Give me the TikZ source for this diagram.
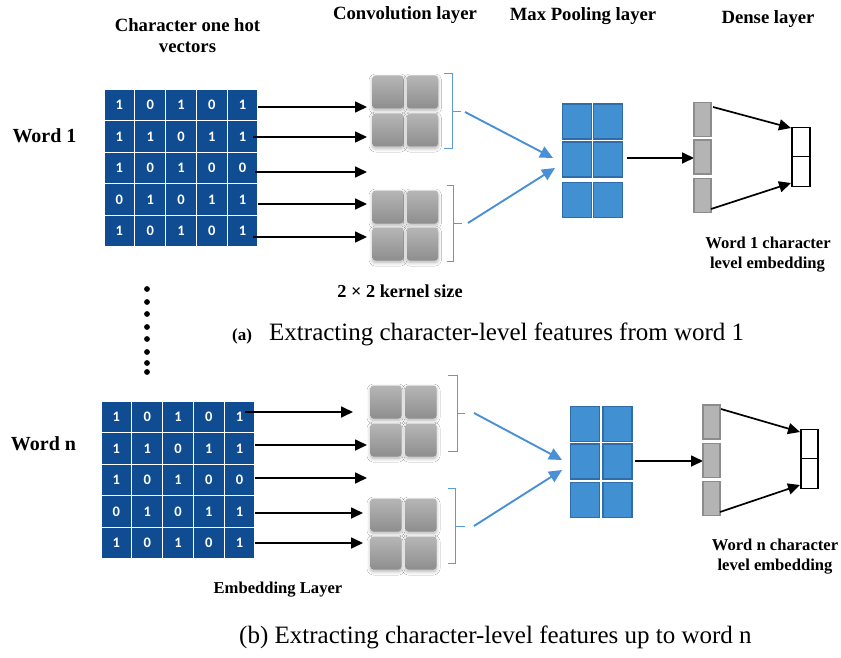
\documentclass[tikz,border=0pt]{standalone}
\usepackage{fontspec}
\setmainfont{Liberation Serif}
\newfontfamily\digitfont{Carlito}
\usetikzlibrary{arrows.meta,shadows.blur}
\definecolor{gridblue}{RGB}{16,76,146}
\definecolor{poolblue}{RGB}{64,144,210}
\definecolor{pooledge}{RGB}{46,108,170}
\definecolor{lineblue}{RGB}{74,144,214}
\definecolor{bracecol}{RGB}{91,155,213}
\definecolor{densefill}{RGB}{180,180,180}
\definecolor{denseedge}{RGB}{140,140,140}
\definecolor{convtop}{RGB}{182,182,182}
\definecolor{convbot}{RGB}{142,142,142}
\tikzset{
  cellbox/.style={fill=gridblue, draw=white, line width=1.2pt, minimum width=30.8pt, minimum height=31.6pt, inner sep=0pt, text=white, font=\digitfont\bfseries\fontsize{14.5}{14.5}\selectfont},
  convbox/.style={rounded corners=3pt, top color=convtop, bottom color=convbot, draw=none, minimum width=31pt, minimum height=33pt, inner sep=0pt,
     blur shadow={shadow blur steps=8, shadow xshift=0pt, shadow yshift=-2pt, shadow blur radius=3.5pt, shadow opacity=30}},
  poolbox/.style={fill=poolblue, draw=pooledge, line width=1.3pt, minimum width=29pt, minimum height=35pt, inner sep=0pt},
  densebox/.style={fill=densefill, draw=denseedge, line width=1.3pt, minimum width=17pt, minimum height=34pt, inner sep=0pt},
  outbox/.style={fill=white, draw=black, line width=1.4pt, minimum width=18pt, minimum height=29.5pt, inner sep=0pt},
  arr/.style={-{Triangle[length=12pt,width=11pt]}, line width=1.7pt, draw=black},
  barr/.style={-{Triangle[length=13pt,width=12pt]}, line width=1.9pt, draw=lineblue},
  brace/.style={draw=bracecol, line width=1pt},
  lbl/.style={anchor=base, inner sep=0pt, font=\bfseries\fontsize{18.7}{20}\selectfont},
  wlbl/.style={anchor=base, inner sep=0pt, font=\bfseries\fontsize{20}{22}\selectfont},
  slbl/.style={anchor=base, inner sep=0pt, font=\bfseries\fontsize{16.6}{18}\selectfont},
  captext/.style={anchor=base west, inner sep=0pt, font=\fontsize{25}{27}\selectfont},
  dotnode/.style={circle, fill=black, minimum size=5.8pt, inner sep=0pt},
}
\begin{document}
\begin{tikzpicture}[x=1pt,y=-1pt]
\useasboundingbox (0,0) rectangle (841,658);
\fill[white] (0,0) rectangle (841,658);

% ---------- headers ----------
\node[lbl] (h1a) at (187.5,32) {Character one hot};
\node[lbl] (h1b) at (187.5,53) {vectors};
\node[lbl] (h2) at (405,20) {Convolution layer};
\node[lbl] (h3) at (583,21) {Max Pooling layer};
\node[lbl] (h4) at (768,24) {Dense layer};

% ---------- panel (a) ----------
\node[wlbl] (w1) at (44.5,143) {Word 1};
\foreach \row [count=\r] in {{1,0,1,0,1},{1,1,0,1,1},{1,0,1,0,0},{0,1,0,1,1},{1,0,1,0,1}}{
  \foreach \v [count=\c] in \row {
    \node[cellbox] (a-\r-\c) at ({104+(\c-0.5)*30.8},{89+(\r-0.5)*31.6}) {\v};
  }
}
\foreach \i/\sx/\yy/\ex in {1/258/107/367, 2/253/137/367, 3/255/172/367, 4/258/204/367, 5/253/237/367}{
  \coordinate (ta\i s) at (\sx,\yy);
  \coordinate (ta\i e) at (\ex,\yy);
  \draw[arr] (ta\i s) -- (ta\i e);
}
% conv squares
\foreach \n/\cx/\cy in {1/388/92, 2/422.5/92, 3/388/130, 4/422.5/130, 5/388/207, 6/422.5/207, 7/388/244, 8/422.5/244}{
  \node[convbox] (ac\n) at (\cx,\cy) {};
}
% braces
\draw[brace] (444,74) -- (452,74) -- (452,149) -- (444,149);
\draw[brace] (452,112) -- (461,112);
\draw[brace] (447,186) -- (453,186) -- (453,261) -- (447,261);
\draw[brace] (453,223) -- (462,223);
\coordinate (ab1) at (465,112); \coordinate (ap1) at (553,158);
\coordinate (ab2) at (468,223); \coordinate (ap2) at (555,168);
\draw[barr] (ab1) -- (ap1);
\draw[barr] (ab2) -- (ap2);
% pooling
\foreach \n/\cx/\cy in {1/577/121.5, 2/608/121.5, 3/577/159.5, 4/608/159.5, 5/577/200, 6/608/200}{
  \node[poolbox] (ap-\n) at (\cx,\cy) {};
}
\coordinate (apo) at (627,158); \coordinate (adi) at (694,158);
\draw[arr] (apo) -- (adi);
% dense
\node[densebox] (ad1) at (702.5,119.5) {};
\node[densebox] (ad2) at (702.5,157) {};
\node[densebox] (ad3) at (702.5,195.5) {};
\node[outbox] (ao1) at (801,142) {};
\node[outbox] (ao2) at (801,171.5) {};
\coordinate (ads1) at (713,107); \coordinate (aoe1) at (791,128);
\coordinate (ads2) at (711,209); \coordinate (aoe2) at (791,183);
\draw[arr] (ads1) -- (aoe1);
\draw[arr] (ads2) -- (aoe2);
\node[slbl] (ae1) at (768,248) {Word 1 character};
\node[slbl] (ae2) at (767.5,268) {level embedding};
\node[lbl, font=\bfseries\fontsize{18.3}{20}\selectfont] (ks) at (400,297) {2 × 2 kernel size};

% dots
\foreach \k/\yy in {1/289, 2/302, 3/314, 4/327, 5/339, 6/352, 7/363, 8/372}{
  \node[dotnode] (dot\k) at (147,\yy) {};
}

% caption a
\node[anchor=base west, inner sep=0pt, font=\bfseries\fontsize{17}{19}\selectfont] (capa1) at (232,340) {(a)};
\node[captext] (capa2) at (269,340) {Extracting character-level features from word 1};

% ---------- panel (b) ----------
\node[wlbl] (wn) at (43.5,450) {Word n};
\foreach \row [count=\r] in {{1,0,1,0,1},{1,1,0,1,1},{1,0,1,0,0},{0,1,0,1,1},{1,0,1,0,1}}{
  \foreach \v [count=\c] in \row {
    \node[cellbox] (b-\r-\c) at ({101+(\c-0.5)*30.8},{401+(\r-0.5)*31.6}) {\v};
  }
}
\foreach \i/\sx/\yy/\ex in {1/245/412/353, 2/255/445/367, 3/255/478/367, 4/255/513/363, 5/255/543/363}{
  \coordinate (tb\i s) at (\sx,\yy);
  \coordinate (tb\i e) at (\ex,\yy);
  \draw[arr] (tb\i s) -- (tb\i e);
}
\foreach \n/\cx/\cy in {1/386/402, 2/421/402, 3/386/440, 4/421/440, 5/386/515, 6/421/515, 7/386/553, 8/421/553}{
  \node[convbox] (bc\n) at (\cx,\cy) {};
}
\draw[brace] (448,375) -- (457,375) -- (457,451) -- (448,451);
\draw[brace] (457,413) -- (465,413);
\draw[brace] (448,488) -- (455,488) -- (455,563) -- (448,563);
\draw[brace] (455,526) -- (465,526);
\coordinate (bb1) at (474,413); \coordinate (bp1) at (562,460);
\coordinate (bb2) at (474,526); \coordinate (bp2) at (562,470);
\draw[barr] (bb1) -- (bp1);
\draw[barr] (bb2) -- (bp2);
\foreach \n/\cx/\cy in {1/585/424, 2/617.5/424, 3/585/461.5, 4/617.5/461.5, 5/585/500, 6/617.5/500}{
  \node[poolbox] (bp-\n) at (\cx,\cy) {};
}
\coordinate (bpo) at (635,461); \coordinate (bdi) at (703,461);
\draw[arr] (bpo) -- (bdi);
\node[densebox] (bd1) at (711.5,422) {};
\node[densebox] (bd2) at (711.5,460.5) {};
\node[densebox] (bd3) at (711.5,498.5) {};
\node[outbox, minimum width=17pt] (bo1) at (809.5,444) {};
\node[outbox, minimum width=17pt] (bo2) at (809.5,473.5) {};
\coordinate (bds1) at (721,409); \coordinate (boe1) at (800,432);
\coordinate (bds2) at (720,512); \coordinate (boe2) at (800,485);
\draw[arr] (bds1) -- (boe1);
\draw[arr] (bds2) -- (boe2);
\node[slbl] (be1) at (775,550) {Word n character};
\node[slbl] (be2) at (775,570) {level embedding};
\node[slbl] (el) at (278,593) {Embedding Layer};

% caption b
\node[captext] (capb) at (239,643) {(b) Extracting character-level features up to word n};
\end{tikzpicture}
\end{document}
